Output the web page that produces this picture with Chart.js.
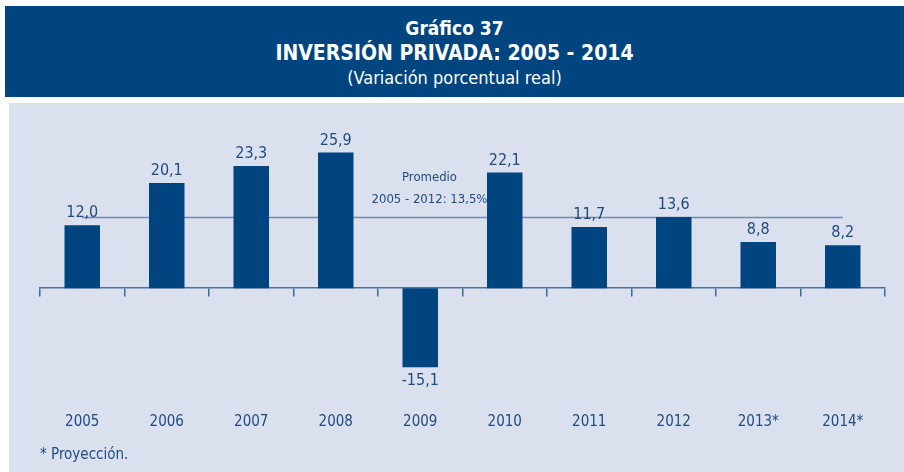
<!DOCTYPE html>
<html>
<head>
<meta charset="utf-8">
<script src="https://cdn.jsdelivr.net/npm/chart.js@4"></script>
<style>
  body { margin:0; background:#fff; width:904px; height:472px; overflow:hidden; position:relative;
         font-family:"Liberation Sans Narrow","DejaVu Sans Condensed","Noto Sans",sans-serif; }
  #cabecera { position:absolute; left:5px; top:6px; width:899px; height:91px; background:#00457f;
              color:#fff; text-align:center; }
  #cabecera .t1 { position:absolute; left:0; right:0; top:11px; font-size:19px; font-weight:bold; }
  #cabecera .t2 { position:absolute; left:0; right:0; top:35px; font-size:21px; font-weight:bold; }
  #cabecera .t3 { position:absolute; left:0; right:0; top:61px; font-size:18px; }
  #panel { position:absolute; left:9px; top:103px; width:895px; height:369px; background:#dbe0ee; }
  #nota { position:absolute; left:40px; top:445px; font-size:15px; color:#1e4b80; }
  canvas { position:absolute; left:0; top:0; }
</style>
</head>
<body>
<div id="cabecera">
  <div class="t1">Gráfico 37</div>
  <div class="t2">INVERSIÓN PRIVADA: 2005 - 2014</div>
  <div class="t3">(Variación porcentual real)</div>
</div>
<div id="panel"><canvas id="grafico" width="895" height="369"></canvas></div>
<div id="nota">* Proyección.</div>
<script>
const anios = ["2005","2006","2007","2008","2009","2010","2011","2012","2013*","2014*"];
const variacion = [12.0, 20.1, 23.3, 25.9, -15.1, 22.1, 11.7, 13.6, 8.8, 8.2];
const promedio = [13.5, 13.5, 13.5, 13.5, 13.5, 13.5, 13.5, 13.5, 13.5, 13.5];
const textoPromedio = ["Promedio", "2005 - 2012: 13,5%"];

const fuente = '"Liberation Sans Narrow","DejaVu Sans Condensed","Noto Sans",sans-serif';
const azulTexto = "#1e4b80";

const etiquetas = {
  id: "etiquetas",
  afterDatasetsDraw(chart) {
    const ctx = chart.ctx;
    const meta = chart.getDatasetMeta(0);
    ctx.save();
    ctx.fillStyle = azulTexto;
    ctx.font = "16px " + fuente;
    ctx.textAlign = "center";
    meta.data.forEach((barra, i) => {
      const v = variacion[i];
      const txt = v.toFixed(1).replace(".", ",");
      if (v >= 0) {
        ctx.textBaseline = "bottom";
        ctx.fillText(txt, barra.x, barra.y - 4);
      } else {
        ctx.textBaseline = "top";
        ctx.fillText(txt, barra.x, barra.y + 6);
      }
    });
    // texto del promedio, entre 2009 y 2010
    const xs = chart.scales.x;
    const x = (xs.getPixelForValue(4) + xs.getPixelForValue(5)) / 2 - 33;
    const y = chart.scales.y.getPixelForValue(13.5);
    ctx.font = "13px " + fuente;
    ctx.textBaseline = "middle";
    ctx.fillText(textoPromedio[0], x, y - 40);
    ctx.fillText(textoPromedio[1], x, y - 18);
    ctx.restore();
  }
};

new Chart(document.getElementById("grafico").getContext("2d"), {
  data: {
    labels: anios,
    datasets: [{
      type: "bar",
      data: variacion,
      backgroundColor: "#00457f",
      categoryPercentage: 1,
      barPercentage: 0.42,
      order: 1
    }, {
      type: "line",
      data: promedio,
      borderColor: "#7388b3",
      borderWidth: 1.5,
      pointRadius: 0,
      order: 2
    }]
  },
  options: {
    responsive: false,
    animation: false,
    layout: { padding: { left: 31, right: 19, top: 28, bottom: 29 } },
    scales: {
      y: { display: false, min: -20, max: 30 },
      x: {
        position: "bottom",
        grid: { display: false },
        border: { display: false },
        ticks: { color: azulTexto, font: { size: 15, family: fuente }, padding: 12 }
      },
      cero: {
        type: "category",
        axis: "x",
        labels: anios,
        offset: true,
        position: { y: 0 },
        grid: { offset: true, drawOnChartArea: false, tickLength: 8, color: "#3d6a99", lineWidth: 1.5 },
        border: { color: "#4a73a0", width: 1.5 },
        ticks: { display: false }
      }
    },
    plugins: { legend: { display: false }, tooltip: { enabled: false } }
  },
  plugins: [etiquetas]
});
</script>
</body>
</html>
